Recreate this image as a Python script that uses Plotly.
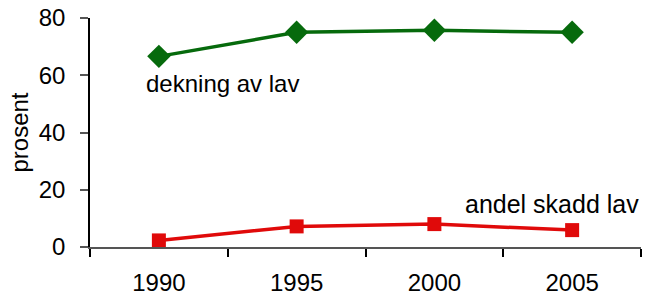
import plotly.graph_objects as go

years = ["1990", "1995", "2000", "2005"]
dekning = [66.6, 75.0, 75.7, 75.0]
skadd = [2.3, 7.2, 8.0, 5.9]
y_ticks = [0, 20, 40, 60, 80]

FONT = "Liberation Sans, Arial, sans-serif"

fig = go.Figure()
fig.add_trace(go.Scatter(
    x=years, y=dekning, mode="lines+markers",
    line=dict(color="#066a0c", width=3.5),
    marker=dict(symbol="diamond", size=18, color="#066a0c"),
    showlegend=False, cliponaxis=False,
))
fig.add_trace(go.Scatter(
    x=years, y=skadd, mode="lines+markers",
    line=dict(color="#e00a0a", width=3.5),
    marker=dict(symbol="square", size=14, color="#e00a0a"),
    showlegend=False, cliponaxis=False,
))

fig.add_annotation(text="dekning av lav", xref="paper", yref="y",
                   x=0.098, y=57, xanchor="left", yanchor="middle",
                   showarrow=False, font=dict(family=FONT, size=24, color="black"))
fig.add_annotation(text="andel skadd lav", xref="paper", yref="y",
                   x=1.0, y=15, xanchor="right", yanchor="middle",
                   showarrow=False, font=dict(family=FONT, size=25, color="black"))

fig.update_layout(
    width=659, height=298,
    margin=dict(l=90, r=18, t=18, b=51),
    plot_bgcolor="white", paper_bgcolor="white",
    font=dict(family=FONT, size=24, color="black"),
)
fig.update_xaxes(
    type="category", range=[-0.5, 3.5], automargin=False,
    showline=True, linecolor="#555555", linewidth=1.5,
    ticks="outside", tickson="boundaries", ticklen=8, tickcolor="black", tickwidth=1.5,
    showgrid=False, zeroline=False, tickfont=dict(size=24), ticklabelstandoff=13,
)
fig.update_yaxes(
    range=[0, 80], tickvals=y_ticks, automargin=False,
    showline=True, linecolor="black", linewidth=1.5,
    ticks="outside", ticklen=8, tickcolor="#555555", tickwidth=1.5,
    showgrid=False, zeroline=False, tickfont=dict(size=24), ticklabelstandoff=10,
    title=dict(text="prosent", font=dict(size=24), standoff=3),
)

fig.write_html("out.html", config={"displayModeBar": False},
               post_script="document.body.style.margin='0';")
